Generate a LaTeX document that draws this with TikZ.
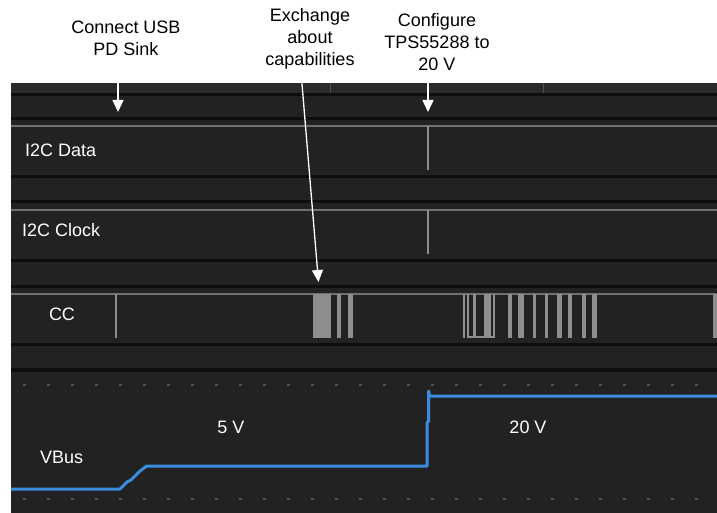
\documentclass[tikz,border=0pt]{standalone}
\usepackage{fontspec}
\setmainfont{Liberation Sans}
\usetikzlibrary{arrows.meta}

\definecolor{scopebg}{HTML}{222222}
\definecolor{scopedark}{HTML}{0E0E0E}
\definecolor{scopestrip}{HTML}{2A2A2A}
\definecolor{basegray}{HTML}{707070}
\definecolor{tracegray}{HTML}{8E8E8E}
\definecolor{gridgray}{HTML}{505050}
\definecolor{vbusblue}{HTML}{3A8DDE}

\tikzset{
  notetext/.style={align=center, inner sep=0pt, font=\fontsize{18}{22}\selectfont},
  lanetext/.style={text=white, inner sep=0pt, font=\fontsize{18}{22}\selectfont},
  notearrow/.style={draw=white, line width=1.5pt, -{Triangle[width=11pt,length=12pt]}},
  baseline/.style={basegray, line width=2pt},
  spike/.style={tracegray, line width=2pt},
}

\begin{document}
\begin{tikzpicture}[x=1pt, y=-1pt]
        \useasboundingbox (0,0) rectangle (717,513);
        \fill[scopebg] (11,83) rectangle (717,513);
        \fill[scopestrip] (11,83) rectangle (717,93);
        \foreach \ya/\yb in {93/96, 117/120, 175/178, 200/203, 259/262, 285/288, 343/346, 368/372}
          \fill[scopedark] (11,\ya) rectangle (717,\yb);
        \draw[gridgray, line width=1pt] (330,83) -- (330,93) (543,83) -- (543,93);
        \foreach \k in {1,...,29} {
          \fill[gridgray] (24*\k-1.5,384) rectangle (24*\k+1.5,386);
          \fill[gridgray] (24*\k-1.5,498) rectangle (24*\k+1.5,500);
        }

        % I2C data and clock
        \draw[baseline] (11,126) -- (717,126);
        \draw[spike] (428,126) -- (428,170);
        \draw[baseline] (11,210) -- (717,210);
        \draw[spike] (428,210) -- (428,254);

        % CC
        \draw[baseline] (11,294) -- (717,294);
        \draw[spike, line width=2pt] (116,294) -- (116,338);
        \foreach \xa/\xb in {312.7/330.5, 336.7/340.5, 348/352.5, 462.7/465.3, 466.7/468.7,
                             473/476, 484/491, 492.5/494.5,
                             508/512, 518/524, 533/536, 545/548, 557/562, 568/572, 582/586, 592/597, 713/717}
          \fill[tracegray] (\xa,294) rectangle (\xb,338);
        \draw[spike] (467,337) -- (494,337);

        % VBus
        \draw[vbusblue, line width=3pt, line join=round]
          (11,489) -- (120,489) -- (127,482) -- (131,480) -- (140,471) -- (146.7,466) -- (427,466)
          -- (427,422.7) -- (428.7,421) -- (428.7,391) -- (429.5,396) -- (717,396);

        \node[lanetext, anchor=west] (data) at (25,150) {I2C Data};
        \node[lanetext, anchor=west] (clock) at (22,230) {I2C Clock};
        \node[lanetext] (cc) at (62,314) {CC};
        \node[lanetext, anchor=west] (vbus) at (40,457) {VBus};
        \node[lanetext] (fivev) at (231,427) {5 V};
        \node[lanetext] (twentyv) at (528,427) {20 V};

        \node[notetext] (connect) at (126,38) {Connect USB\\PD Sink};
        \node[notetext] (exchange) at (310,39) {Exchange\\about\\capabilities};
        \node[notetext] (configure) at (437,42) {Configure\\TPS55288 to\\20 V};

        \coordinate (connectTip) at (118,112);
        \coordinate (exchangeTip) at (318.5,282);
        \coordinate (exchangeTop) at (301,72);
        \coordinate (configureTip) at (428,112);
        \draw[notearrow] (connect.south -| connectTip) -- (connectTip);
        \draw[notearrow, line width=1.3pt] (exchangeTop) -- (exchangeTip);
        \draw[notearrow] (configure.south -| configureTip) -- (configureTip);
\end{tikzpicture}
\end{document}
